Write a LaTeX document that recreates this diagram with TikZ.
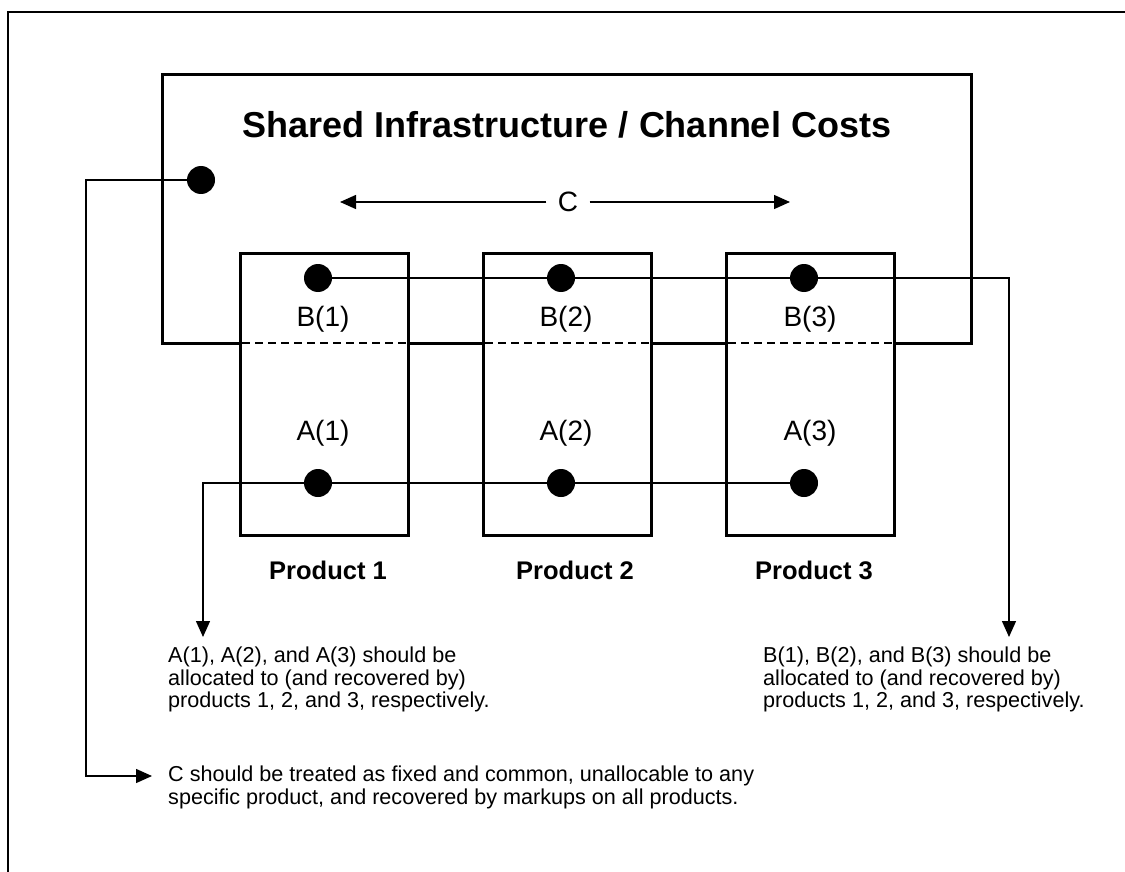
\documentclass[tikz,border=0pt]{standalone}
\usepackage{fontspec}
\setmainfont{Liberation Sans}
\usetikzlibrary{arrows.meta}
\begin{document}
\begin{tikzpicture}[x=1pt,y=-1pt,
  frame/.style={line width=1.6pt},
  thickbox/.style={line width=3pt},
  prodbox/.style={line width=3pt, fill=white},
  conn/.style={line width=1.4pt},
  tipconn/.style={line width=1.4pt, -{Triangle[length=16pt,width=14pt]}},
  dot/.style={circle, fill=black, inner sep=0pt, minimum size=28pt},
  boxlabel/.style={font=\fontsize{28}{31}\selectfont},
  prodlabel/.style={font=\bfseries\fontsize{25.5}{28}\selectfont},
  note/.style={font=\fontsize{21.6}{22.5}\selectfont, align=left, anchor=north west, inner sep=0pt},
  divider/.style={line width=1.5pt, dash pattern=on 8pt off 5pt}]
\useasboundingbox (0,0) rectangle (1125,872);
% page frame
\draw[frame] (8,872) -- (8,12) -- (1125,12);
% shared infrastructure box
\draw[thickbox] (162,75) rectangle (971,343);
\node[font=\bfseries\fontsize{36}{40}\selectfont] (title) at (567,125) {Shared Infrastructure / Channel Costs};
% product boxes
\draw[prodbox] (240,253) rectangle (408,535);
\draw[prodbox] (483,253) rectangle (651,535);
\draw[prodbox] (726,253) rectangle (894,535);
\draw[divider] (242,343) -- (406,343);
\draw[divider] (485,343) -- (649,343);
\draw[divider] (728,343) -- (892,343);
% common cost arrows
\node[boxlabel] (c) at (568,202) {C};
\coordinate (cl) at (340,202);
\coordinate (cr) at (790,202);
\draw[tipconn] (c.west) ++(-8,0) -- (cl);
\draw[tipconn] (c.east) ++(8,0) -- (cr);
% labels
\node[boxlabel] (b1) at (323,319) {B(1)};
\node[boxlabel] (b2) at (566,319) {B(2)};
\node[boxlabel] (b3) at (810,319) {B(3)};
\node[boxlabel] (a1) at (323,433) {A(1)};
\node[boxlabel] (a2) at (566,433) {A(2)};
\node[boxlabel] (a3) at (810,433) {A(3)};
\node[prodlabel] (p1) at (328,570) {Product 1};
\node[prodlabel] (p2) at (575,570) {Product 2};
\node[prodlabel] (p3) at (814,570) {Product 3};
% cost points
\node[dot] (dc) at (201,180) {};
\node[dot] (db1) at (318,278) {};
\node[dot] (db2) at (561,278) {};
\node[dot] (db3) at (804,278) {};
\node[dot] (da1) at (318,483) {};
\node[dot] (da2) at (561,483) {};
\node[dot] (da3) at (804,483) {};
% notes
\node[note] (na) at (168,647) {A(1), A(2), and A(3) should be\\allocated to (and recovered by)\\products 1, 2, and 3, respectively.};
\node[note] (nb) at (763,647) {B(1), B(2), and B(3) should be\\allocated to (and recovered by)\\products 1, 2, and 3, respectively.};
\node[note] (nc) at (168,766) {C should be treated as fixed and common, unallocable to any\\specific product, and recovered by markups on all products.};
% connectors
\coordinate (ta) at (203,637);
\coordinate (tb) at (1009,637);
\coordinate (tc) at (152,776);
\draw[tipconn] (da3.center) -- (da1.center) -- (203,483) -- (ta);
\draw[tipconn] (db1.center) -- (db3.center) -- (1009,278) -- (tb);
\draw[tipconn] (dc.center) -- (86,180) -- (86,776) -- (tc);
\end{tikzpicture}
\end{document}
